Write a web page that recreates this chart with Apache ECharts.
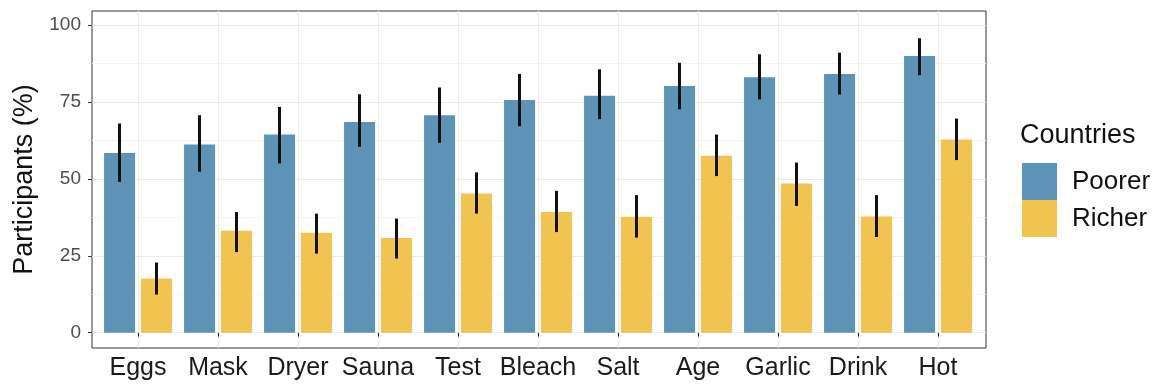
<!DOCTYPE html>
<html>
<head>
<meta charset="utf-8">
<script src="https://cdn.jsdelivr.net/npm/echarts@6/dist/echarts.min.js"></script>
<style>
html,body{margin:0;padding:0;background:#fff;}
#chart{width:1161px;height:388px;}
</style>
</head>
<body>
<div id="chart"></div>
<script>
const categories = ['Eggs','Mask','Dryer','Sauna','Test','Bleach','Salt','Age','Garlic','Drink','Hot'];
const poorer     = [58.4, 61.2, 64.4, 68.5, 70.7, 75.6, 77.0, 80.2, 83.0, 84.1, 89.9];
const poorerLow  = [49.0, 52.3, 55.0, 60.4, 61.7, 67.1, 69.4, 72.6, 75.8, 77.4, 83.7];
const poorerHigh = [68.0, 70.7, 73.4, 77.5, 79.7, 84.1, 85.6, 87.7, 90.5, 91.0, 95.7];
const richer     = [17.6, 33.1, 32.5, 30.8, 45.2, 39.2, 37.7, 57.5, 48.5, 37.8, 62.8];
const richerLow  = [12.4, 26.2, 25.7, 24.1, 38.7, 32.7, 30.9, 50.9, 41.2, 31.1, 56.1];
const richerHigh = [22.8, 39.2, 38.7, 37.1, 52.1, 46.1, 44.7, 64.4, 55.3, 44.7, 69.6];
const yTicks = [0, 25, 50, 75, 100];
const yMinorTicks = [12.5, 37.5, 62.5, 87.5];
const seriesNames = ['Poorer', 'Richer'];
const legendTitle = 'Countries';
const yTitle = 'Participants (%)';

const FONT = "'Liberation Sans', Arial, sans-serif";
const COL_P = '#5d93b6';
const COL_R = '#f1c34f';
const Y_MIN = -4.98, Y_MAX = 104.55;

function errRenderer(sign) {
  return function (params, api) {
    const x = api.value(0);
    const lo = api.coord([x, api.value(1)]);
    const hi = api.coord([x, api.value(2)]);
    const band = api.size([1, 0])[0];
    const dx = sign * band * 0.231;
    return {
      type: 'line',
      shape: { x1: lo[0] + dx, y1: lo[1], x2: hi[0] + dx, y2: hi[1] },
      style: { stroke: '#111', lineWidth: 3, lineCap: 'butt' }
    };
  };
}

const chart = echarts.init(document.getElementById('chart'), null, { renderer: 'canvas' });
const option = {
  animation: false,
  backgroundColor: '#fff',
  textStyle: { fontFamily: FONT },
  title: {
    text: legendTitle,
    left: 1020, top: 122,
    padding: 0,
    textStyle: { fontFamily: FONT, fontSize: 27, fontWeight: 'normal', color: '#111' }
  },
  legend: {
    data: seriesNames,
    orient: 'vertical',
    left: 1022, top: 163,
    padding: 0,
    itemWidth: 35, itemHeight: 37,
    itemGap: 0,
    icon: 'rect',
    textStyle: { fontFamily: FONT, fontSize: 26, color: '#111', padding: [0, 0, 0, 10] }
  },
  grid: [
    { left: 92, top: 11, width: 894, height: 337, show: true, borderColor: '#333', borderWidth: 1, backgroundColor: 'transparent', containLabel: false },
    { left: 98, top: 11, width: 880, height: 337, containLabel: false }
  ],
  xAxis: [
    { gridIndex: 0, type: 'value', min: 0, max: 1, show: false },
    {
      gridIndex: 1, type: 'category', data: categories,
      axisLine: { show: false },
      axisTick: { show: true, alignWithLabel: true, interval: 0, length: 4, lineStyle: { color: '#333', width: 1 } },
      axisLabel: { interval: 0, fontFamily: FONT, fontSize: 25, color: '#1a1a1a', margin: 8, hideOverlap: false },
      splitLine: { show: false }
    }
  ],
  yAxis: [
    {
      gridIndex: 0, type: 'value', min: Y_MIN, max: Y_MAX,
      name: yTitle, nameLocation: 'middle', nameRotate: 90, nameGap: 52,
      nameTextStyle: { fontFamily: FONT, fontSize: 27, color: '#111' },
      axisLine: { show: false },
      axisTick: { show: true, customValues: yTicks, length: 4, lineStyle: { color: '#333', width: 1 } },
      axisLabel: { customValues: yTicks, fontFamily: FONT, fontSize: 19, color: '#4d4d4d', margin: 11 },
      splitLine: { show: false }
    },
    { gridIndex: 1, type: 'value', min: Y_MIN, max: Y_MAX, show: false, splitLine: { show: false } }
  ],
  series: [
    {
      name: 'hgrid', type: 'line', xAxisIndex: 0, yAxisIndex: 0, data: [[0, 0]],
      showSymbol: false, symbol: 'none', silent: true, z: 0, lineStyle: { width: 0 },
      markLine: {
        silent: true, symbol: 'none', z: 0, animation: false,
        label: { show: false },
        data: yTicks.map(v => ({ yAxis: v, lineStyle: { color: '#ebebeb', width: 1.2, type: 'solid' } }))
          .concat(yMinorTicks.map(v => ({ yAxis: v, lineStyle: { color: '#f3f3f3', width: 1, type: 'solid' } })))
      }
    },
    {
      name: 'vgrid', type: 'line', xAxisIndex: 1, yAxisIndex: 1, data: [],
      showSymbol: false, symbol: 'none', silent: true, z: 0, lineStyle: { width: 0 },
      markLine: {
        silent: true, symbol: 'none', z: 0, animation: false,
        label: { show: false },
        data: categories.map(c => ({ xAxis: c, lineStyle: { color: '#ebebeb', width: 1.2, type: 'solid' } }))
      }
    },
    {
      name: seriesNames[0], type: 'bar', xAxisIndex: 1, yAxisIndex: 1, data: poorer,
      barWidth: 31, barGap: '19%', z: 2,
      itemStyle: { color: COL_P }
    },
    {
      name: seriesNames[1], type: 'bar', xAxisIndex: 1, yAxisIndex: 1, data: richer,
      barWidth: 31, barGap: '19%', z: 2,
      itemStyle: { color: COL_R }
    },
    {
      name: 'errPoorer', type: 'custom', xAxisIndex: 1, yAxisIndex: 1, z: 3, silent: true,
      renderItem: errRenderer(-1),
      encode: { x: 0, y: [1, 2] },
      data: categories.map((c, i) => [i, poorerLow[i], poorerHigh[i]])
    },
    {
      name: 'errRicher', type: 'custom', xAxisIndex: 1, yAxisIndex: 1, z: 3, silent: true,
      renderItem: errRenderer(1),
      encode: { x: 0, y: [1, 2] },
      data: categories.map((c, i) => [i, richerLow[i], richerHigh[i]])
    }
  ]
};
chart.setOption(option);
</script>
</body>
</html>
